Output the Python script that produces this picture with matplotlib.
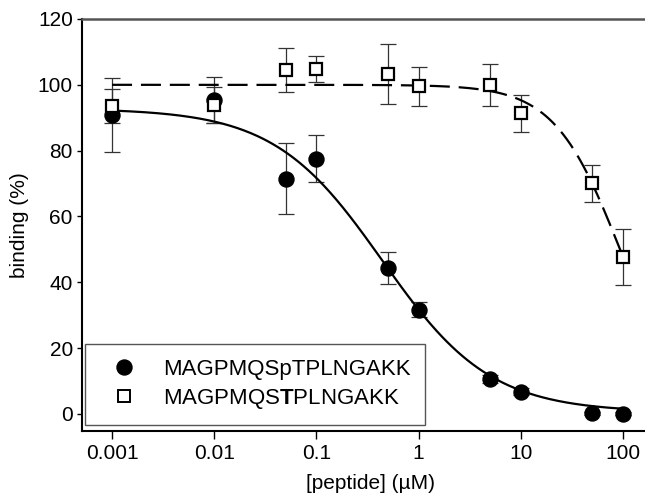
import numpy as np
import matplotlib.pyplot as plt
from matplotlib.lines import Line2D
from matplotlib.ticker import FixedLocator, FixedFormatter, NullLocator

plt.rcParams['font.family'] = ['Liberation Sans', 'DejaVu Sans']
plt.rcParams['mathtext.fontset'] = 'custom'
plt.rcParams['mathtext.rm'] = 'Liberation Sans'
plt.rcParams['mathtext.bf'] = 'Liberation Sans:bold'

# peptide concentrations (uM)
conc = [0.001, 0.01, 0.05, 0.1, 0.5, 1, 5, 10, 50, 100]

# phospho peptide (closed circles)
phos_mean = [90.8, 95.5, 71.5, 77.6, 44.3, 31.7, 10.6, 6.8, 0.2, 0.1]
phos_err = [11.3, 7.0, 10.8, 7.0, 4.8, 2.3, 1.2, 1.0, 0.5, 0.5]

# unmodified peptide (open squares)
unmod_mean = [93.5, 93.8, 104.5, 104.8, 103.3, 99.5, 100.0, 91.3, 70.1, 47.7]
unmod_err = [5.2, 5.5, 6.6, 4.0, 9.0, 6.0, 6.4, 5.6, 5.6, 8.5]

# dose-response fit parameters (top, bottom, IC50, hill)
phos_fit = (92.8, 0.5, 0.44, 0.82)
unmod_fit = (100.0, 0.0, 93.5, 1.35)

tick_vals = [0.001, 0.01, 0.1, 1, 10, 100]
tick_labels = ['0.001', '0.01', '0.1', '1', '10', '100']
labels = ['MAGPMQSpTPLNGAKK', 'MAGPMQS$\\mathbf{T}$PLNGAKK']


def logistic(x, p):
    top, bottom, ic50, hill = p
    return bottom + (top - bottom) / (1 + (x / ic50) ** hill)


fig = plt.figure(figsize=(6.45, 4.94), dpi=100)
W, H = 645, 494
ax = fig.add_axes([82 / W, 63 / H, 578 / W, 412 / H])

xs = np.logspace(-3, 2, 300)
ax.plot(xs, logistic(xs, phos_fit), color='black', lw=1.6, zorder=3)
ax.plot(xs, logistic(xs, unmod_fit), color='black', lw=1.6,
        dashes=(9, 4), zorder=3)

ax.errorbar(conc, phos_mean, yerr=phos_err, fmt='none', ecolor='#333333',
            elinewidth=0.9, capsize=6, capthick=0.9, zorder=2)
ax.errorbar(conc, unmod_mean, yerr=unmod_err, fmt='none', ecolor='#333333',
            elinewidth=0.9, capsize=6, capthick=0.9, zorder=2)

ax.plot(conc, phos_mean, 'o', color='black', ms=10.8, zorder=4)
ax.plot(conc, unmod_mean, 's', mfc='white', mec='black', mew=1.6, ms=9,
        zorder=5)

ax.set_xscale('log')
ax.set_xlim(10 ** -3.294, 10 ** 2.362)
ax.set_ylim(-5.2, 120)
ax.xaxis.set_major_locator(FixedLocator(tick_vals))
ax.xaxis.set_major_formatter(FixedFormatter(tick_labels))
ax.xaxis.set_minor_locator(NullLocator())
ax.set_yticks([0, 20, 40, 60, 80, 100, 120])

ax.tick_params(direction='out', width=1, labelsize=15, colors='black')
ax.tick_params(axis='x', length=5.5, pad=4)
ax.tick_params(axis='y', length=3.6, pad=3)
for s in ['left', 'bottom']:
    ax.spines[s].set_linewidth(1.5)
    ax.spines[s].set_color('black')
ax.spines['top'].set_linewidth(1.8)
ax.spines['top'].set_color('#555555')
ax.spines['right'].set_visible(False)

ax.set_xlabel('[peptide] (µM)', fontsize=15, labelpad=8)
ax.set_ylabel('binding (%)', fontsize=15, labelpad=6)

handles = [
    Line2D([], [], ls='none', marker='o', color='black', ms=10.8),
    Line2D([], [], ls='none', marker='s', mfc='white', mec='black',
           mew=1.4, ms=8.5),
]
leg = ax.legend(handles, labels, loc='lower left',
                bbox_to_anchor=(0.005, 0.0145), borderaxespad=0,
                fontsize=16, frameon=True, fancybox=False, framealpha=1,
                edgecolor='#555555', handletextpad=0.6, borderpad=0.65,
                labelspacing=0.3, handlelength=2.25)
leg.get_frame().set_linewidth(1.0)

fig.savefig('out.png', dpi=100)
